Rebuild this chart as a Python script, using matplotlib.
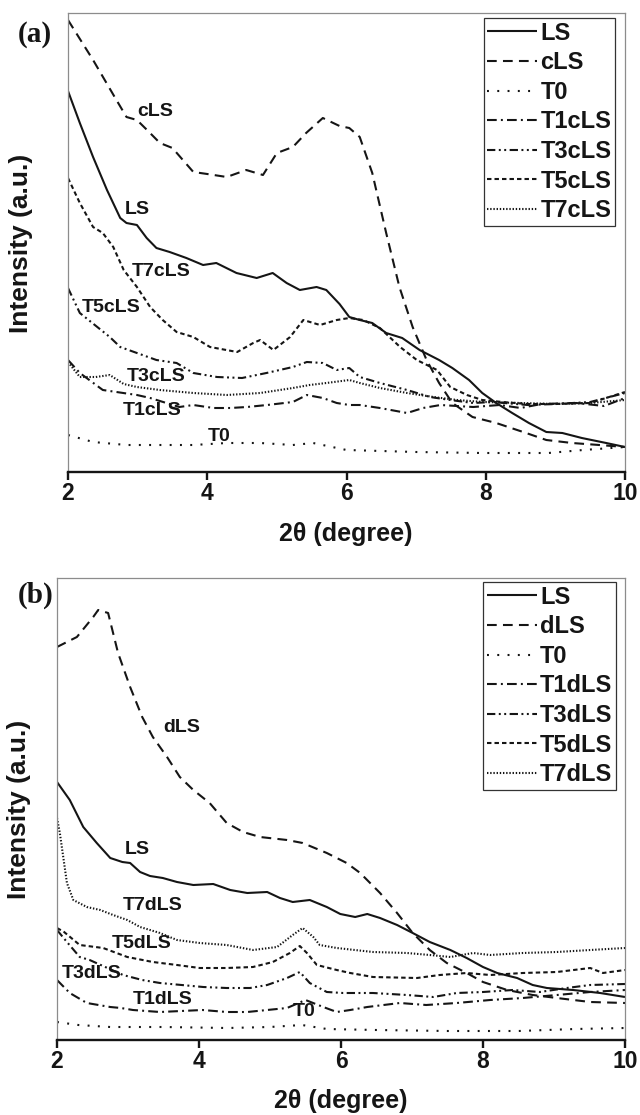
import matplotlib
matplotlib.use("Agg")
import matplotlib.pyplot as plt

plt.rcParams.update({
    "font.family": ["Liberation Sans", "DejaVu Sans"],
    "font.weight": "bold",
    "axes.labelweight": "bold",
    "lines.scale_dashes": False,
})

# ---- panel (a) data (2theta in degree, intensity in a.u.) ----
ls_a_x = [2.0, 2.17, 2.36, 2.56, 2.75, 2.84, 2.99, 3.13, 3.27, 3.46, 3.70, 3.94, 4.13, 4.42,
          4.71, 4.94, 5.14, 5.33, 5.57, 5.71, 5.90, 6.04, 6.19, 6.37, 6.57, 6.80, 7.05, 7.33,
          7.52, 7.76, 7.95, 8.15, 8.38, 8.62, 8.87, 9.10, 9.38, 9.73, 10.0]
ls_a_y = [385, 353, 319, 286, 258, 253, 251, 238, 228, 224, 218, 211, 213, 203,
          198, 203, 193, 186, 189, 186, 172, 159, 156, 153, 143, 138, 126, 116,
          108, 96, 83, 73, 63, 53, 44, 43, 38, 33, 29]

cls_x = [2.0, 2.36, 2.67, 2.84, 2.99, 3.15, 3.32, 3.5, 3.65, 3.8, 4.0, 4.28, 4.56, 4.8,
         5.0, 5.23, 5.42, 5.66, 5.9, 6.04, 6.19, 6.37, 6.57, 6.76, 6.95, 7.15, 7.33, 7.52,
         7.81, 8.15, 8.58, 8.87, 9.24, 9.63, 10.0]
cls_y = [456, 416, 379, 359, 356, 345, 333, 328, 316, 304, 302, 299, 306, 301,
         323, 329, 343, 358, 350, 348, 339, 303, 243, 189, 149, 116, 93, 73,
         59, 53, 43, 36, 33, 31, 29]

t0_a_x = [2.0, 2.36, 2.84, 3.32, 3.8, 4.28, 4.76, 5.23, 5.52, 6.0, 7.0, 7.95, 8.9, 9.4, 10.0]
t0_a_y = [41, 34, 31, 31, 31, 33, 33, 31, 33, 26, 24, 23, 23, 26, 29]

t1c_x = [2.0, 2.17, 2.5, 2.99, 3.18, 3.6, 3.8, 4.09, 4.33, 4.57, 4.86, 5.23, 5.43, 5.66,
         5.86, 6.04, 6.19, 6.48, 6.87, 7.1, 7.35, 7.82, 8.2, 8.5, 8.8, 9.3, 9.7, 10.0]
t1c_y = [116, 103, 86, 81, 78, 69, 71, 68, 68, 69, 71, 74, 81, 78,
         73, 71, 71, 68, 63, 68, 71, 69, 71, 68, 72, 73, 70, 78]

t3c_x = [2.0, 2.17, 2.6, 2.75, 2.99, 3.27, 3.56, 3.8, 4.14, 4.5, 4.85, 5.23, 5.43, 5.66,
         5.86, 6.04, 6.19, 6.48, 6.87, 7.2, 7.49, 7.82, 8.1, 8.6, 9.0, 9.5, 10.0]
t3c_y = [188, 163, 139, 129, 123, 116, 113, 103, 99, 98, 103, 109, 114, 113,
         106, 108, 99, 93, 86, 79, 76, 73, 74, 71, 72, 74, 83]

t5c_x = [2.0, 2.17, 2.36, 2.5, 2.65, 2.8, 2.99, 3.18, 3.36, 3.56, 3.8, 4.04, 4.43, 4.66,
         4.76, 4.95, 5.19, 5.38, 5.62, 5.86, 6.04, 6.24, 6.48, 6.77, 7.01, 7.3, 7.49, 7.73,
         7.95, 8.24, 8.6, 9.0, 9.5, 10.0]
t5c_y = [298, 273, 249, 243, 229, 206, 189, 169, 156, 144, 139, 129, 124, 133,
         136, 126, 139, 156, 151, 156, 158, 156, 148, 129, 116, 106, 89, 81,
         76, 74, 72, 72, 73, 84]

t7c_x = [2.0, 2.17, 2.4, 2.6, 2.8, 2.99, 3.32, 3.8, 4.28, 4.76, 5.23, 5.47, 5.71, 6.04,
         6.19, 6.48, 6.87, 7.25, 7.59, 7.97, 8.5, 9.0, 9.5, 10.0]
t7c_y = [114, 99, 99, 101, 92, 89, 86, 83, 81, 83, 88, 91, 93, 96,
         93, 88, 83, 79, 76, 74, 73, 72, 73, 76]

# ---- panel (b) data ----
ls_b_x = [2.0, 2.18, 2.37, 2.56, 2.75, 2.92, 3.03, 3.17, 3.31, 3.49, 3.69, 3.92, 4.2, 4.44,
          4.68, 4.96, 5.14, 5.32, 5.56, 5.8, 5.99, 6.2, 6.37, 6.55, 6.79, 7.01, 7.25, 7.54,
          7.77, 8.0, 8.2, 8.48, 8.7, 8.9, 9.27, 9.65, 10.0]
ls_b_y = [258, 240, 213, 197, 182, 178, 177, 168, 164, 162, 158, 155, 156, 150,
          147, 148, 142, 138, 140, 133, 126, 123, 126, 122, 115, 107, 98, 90,
          82, 73, 67, 62, 55, 52, 50, 47, 43]

dls_x = [2.0, 2.28, 2.51, 2.58, 2.72, 2.86, 3.03, 3.2, 3.35, 3.55, 3.73, 3.92, 4.15, 4.39,
         4.62, 4.86, 5.24, 5.46, 5.8, 6.08, 6.27, 6.55, 6.79, 7.01, 7.25, 7.49, 7.77, 8.0,
         8.34, 8.7, 9.04, 9.51, 10.0]
dls_y = [393, 403, 423, 430, 427, 387, 353, 323, 303, 283, 263, 250, 237, 217,
         208, 203, 200, 197, 187, 177, 167, 147, 127, 107, 90, 77, 67, 58,
         50, 45, 42, 38, 37]

t0_b_x = [2.0, 2.3, 2.75, 3.5, 4.4, 5.0, 5.45, 5.8, 6.5, 7.5, 8.5, 9.3, 10.0]
t0_b_y = [18, 15, 13, 13, 12, 13, 15, 11, 10, 9, 9, 11, 12]

t1d_x = [2.0, 2.18, 2.42, 2.75, 2.9, 3.07, 3.45, 4.05, 4.39, 4.68, 4.96, 5.24, 5.5, 5.75,
         5.94, 6.13, 6.37, 6.83, 7.2, 7.63, 8.1, 8.56, 9.04, 9.51, 10.0]
t1d_y = [60, 47, 37, 33, 32, 30, 28, 30, 28, 28, 30, 32, 40, 33,
         28, 30, 33, 37, 35, 37, 40, 42, 45, 48, 50]

t3d_x = [2.0, 2.14, 2.32, 2.46, 2.93, 3.2, 3.45, 4.06, 4.39, 4.72, 4.96, 5.24, 5.42, 5.56,
         5.8, 6.03, 6.45, 6.93, 7.3, 7.63, 8.0, 8.42, 8.8, 9.18, 9.51, 10.0]
t3d_y = [110, 98, 83, 80, 65, 60, 57, 53, 52, 52, 55, 62, 68, 57,
         48, 47, 47, 45, 43, 47, 48, 50, 48, 52, 55, 56]

t5d_x = [2.0, 2.1, 2.32, 2.65, 2.99, 3.35, 3.69, 4.01, 4.39, 4.76, 5.04, 5.28, 5.42, 5.52,
         5.66, 5.94, 6.13, 6.45, 7.07, 7.39, 7.77, 8.1, 8.56, 9.04, 9.51, 9.69, 10.0]
t5d_y = [112, 108, 95, 92, 83, 78, 75, 72, 72, 73, 78, 87, 94, 87,
         75, 70, 67, 63, 62, 65, 67, 65, 67, 68, 72, 67, 70]

t7d_x = [2.0, 2.04, 2.08, 2.14, 2.23, 2.42, 2.61, 2.79, 2.99, 3.17, 3.45, 3.69, 4.01, 4.39,
         4.76, 5.1, 5.32, 5.46, 5.61, 5.7, 5.94, 6.45, 6.93, 7.25, 7.54, 7.86, 8.1, 8.56,
         9.04, 9.51, 10.0]
t7d_y = [222, 207, 187, 157, 140, 133, 130, 125, 120, 113, 107, 100, 97, 95,
         90, 93, 105, 112, 103, 95, 92, 88, 87, 85, 83, 87, 85, 87,
         88, 90, 92]

legend_a = ["LS", "cLS", "T0", "T1cLS", "T3cLS", "T5cLS", "T7cLS"]
legend_b = ["LS", "dLS", "T0", "T1dLS", "T3dLS", "T5dLS", "T7dLS"]

# curve labels written inside the plots: (text, x, y)
notes_a = [("cLS", 3.0, 365), ("LS", 2.82, 267), ("T7cLS", 2.92, 205), ("T5cLS", 2.2, 169),
           ("T3cLS", 2.85, 100), ("T1cLS", 2.79, 66), ("T0", 4.01, 40)]
notes_b = [("dLS", 3.49, 312), ("LS", 2.96, 190), ("T7dLS", 2.93, 134), ("T5dLS", 2.77, 97),
           ("T3dLS", 2.07, 66), ("T1dLS", 3.06, 40), ("T0", 5.32, 28)]

STYLES = [
    (0, ()),                             # solid
    (0, (7, 4.5)),                       # long dash
    (0, (1.4, 6.0)),                     # sparse dots
    (0, (7, 3, 1.4, 3)),                 # dash dot
    (0, (6, 2.5, 1.4, 2.5, 1.4, 2.5)),   # dash dot dot
    (0, (3.2, 2.2)),                     # short dash
    (0, (1.0, 1.3)),                     # fine dots
]
INK = "#151515"


def draw_panel(ax, series, labels, notes, ylim):
    for (x, y), lab, ls in zip(series, labels, STYLES):
        ax.plot(x, y, color=INK, lw=1.5, linestyle=ls, label=lab)
    for txt, x, y in notes:
        ax.text(x, y, txt, fontsize=14, fontweight="bold", ha="left", va="center", color=INK)
    ax.set_xlim(2, 10)
    ax.set_ylim(*ylim)
    ax.set_xticks([2, 4, 6, 8, 10])
    ax.set_yticks([])
    for s in ("top", "right", "left"):
        ax.spines[s].set_color("#8c8c8c")
        ax.spines[s].set_linewidth(0.9)
    ax.spines["bottom"].set_color(INK)
    ax.spines["bottom"].set_linewidth(1.7)
    ax.tick_params(axis="x", direction="out", length=6, width=1.7, pad=1, labelsize=16.5,
                   colors=INK)


fig = plt.figure(figsize=(6.4, 11.15), dpi=100, facecolor="white")

ax_a = fig.add_axes([68 / 640, 1 - 472 / 1115, 557 / 640, 459 / 1115])
draw_panel(ax_a,
           [(ls_a_x, ls_a_y), (cls_x, cls_y), (t0_a_x, t0_a_y), (t1c_x, t1c_y),
            (t3c_x, t3c_y), (t5c_x, t5c_y), (t7c_x, t7c_y)],
           legend_a, notes_a, (4, 463))

ax_b = fig.add_axes([57 / 640, 1 - 1040 / 1115, 568 / 640, 462 / 1115])
draw_panel(ax_b,
           [(ls_b_x, ls_b_y), (dls_x, dls_y), (t0_b_x, t0_b_y), (t1d_x, t1d_y),
            (t3d_x, t3d_y), (t5d_x, t5d_y), (t7d_x, t7d_y)],
           legend_b, notes_b, (0, 462))

for ax, anchor in ((ax_a, (615 / 640, 1 - 18 / 1115)), (ax_b, (616 / 640, 1 - 582 / 1115))):
    leg = ax.legend(loc="upper right", bbox_to_anchor=anchor, bbox_transform=fig.transFigure,
                    borderaxespad=0, fontsize=17, frameon=True, fancybox=False,
                    edgecolor="#333333", framealpha=1, labelspacing=0.28,
                    handlelength=2.1, handletextpad=0.15, borderpad=0.15)
    leg.get_frame().set_linewidth(0.9)
    for t in leg.get_texts():
        t.set_fontweight("bold")
        t.set_color(INK)

fig.text(346 / 640, 1 - 534 / 1115, "2θ (degree)", ha="center", va="center", fontsize=18,
         fontweight="bold", color=INK)
fig.text(341 / 640, 1 - 1101 / 1115, "2θ (degree)", ha="center", va="center", fontsize=18,
         fontweight="bold", color=INK)
fig.text(21 / 640, 1 - 243 / 1115, "Intensity (a.u.)", rotation=90, ha="center", va="center",
         fontsize=19, fontweight="bold", color=INK)
fig.text(19 / 640, 1 - 809 / 1115, "Intensity (a.u.)", rotation=90, ha="center", va="center",
         fontsize=19, fontweight="bold", color=INK)

fig.text(35 / 640, 1 - 35 / 1115, "(a)", ha="center", va="center", fontsize=21,
         fontweight="bold", family="Liberation Serif", color=INK)
fig.text(36 / 640, 1 - 595 / 1115, "(b)", ha="center", va="center", fontsize=21,
         fontweight="bold", family="Liberation Serif", color=INK)

fig.savefig("out.png", dpi=100, facecolor="white")
